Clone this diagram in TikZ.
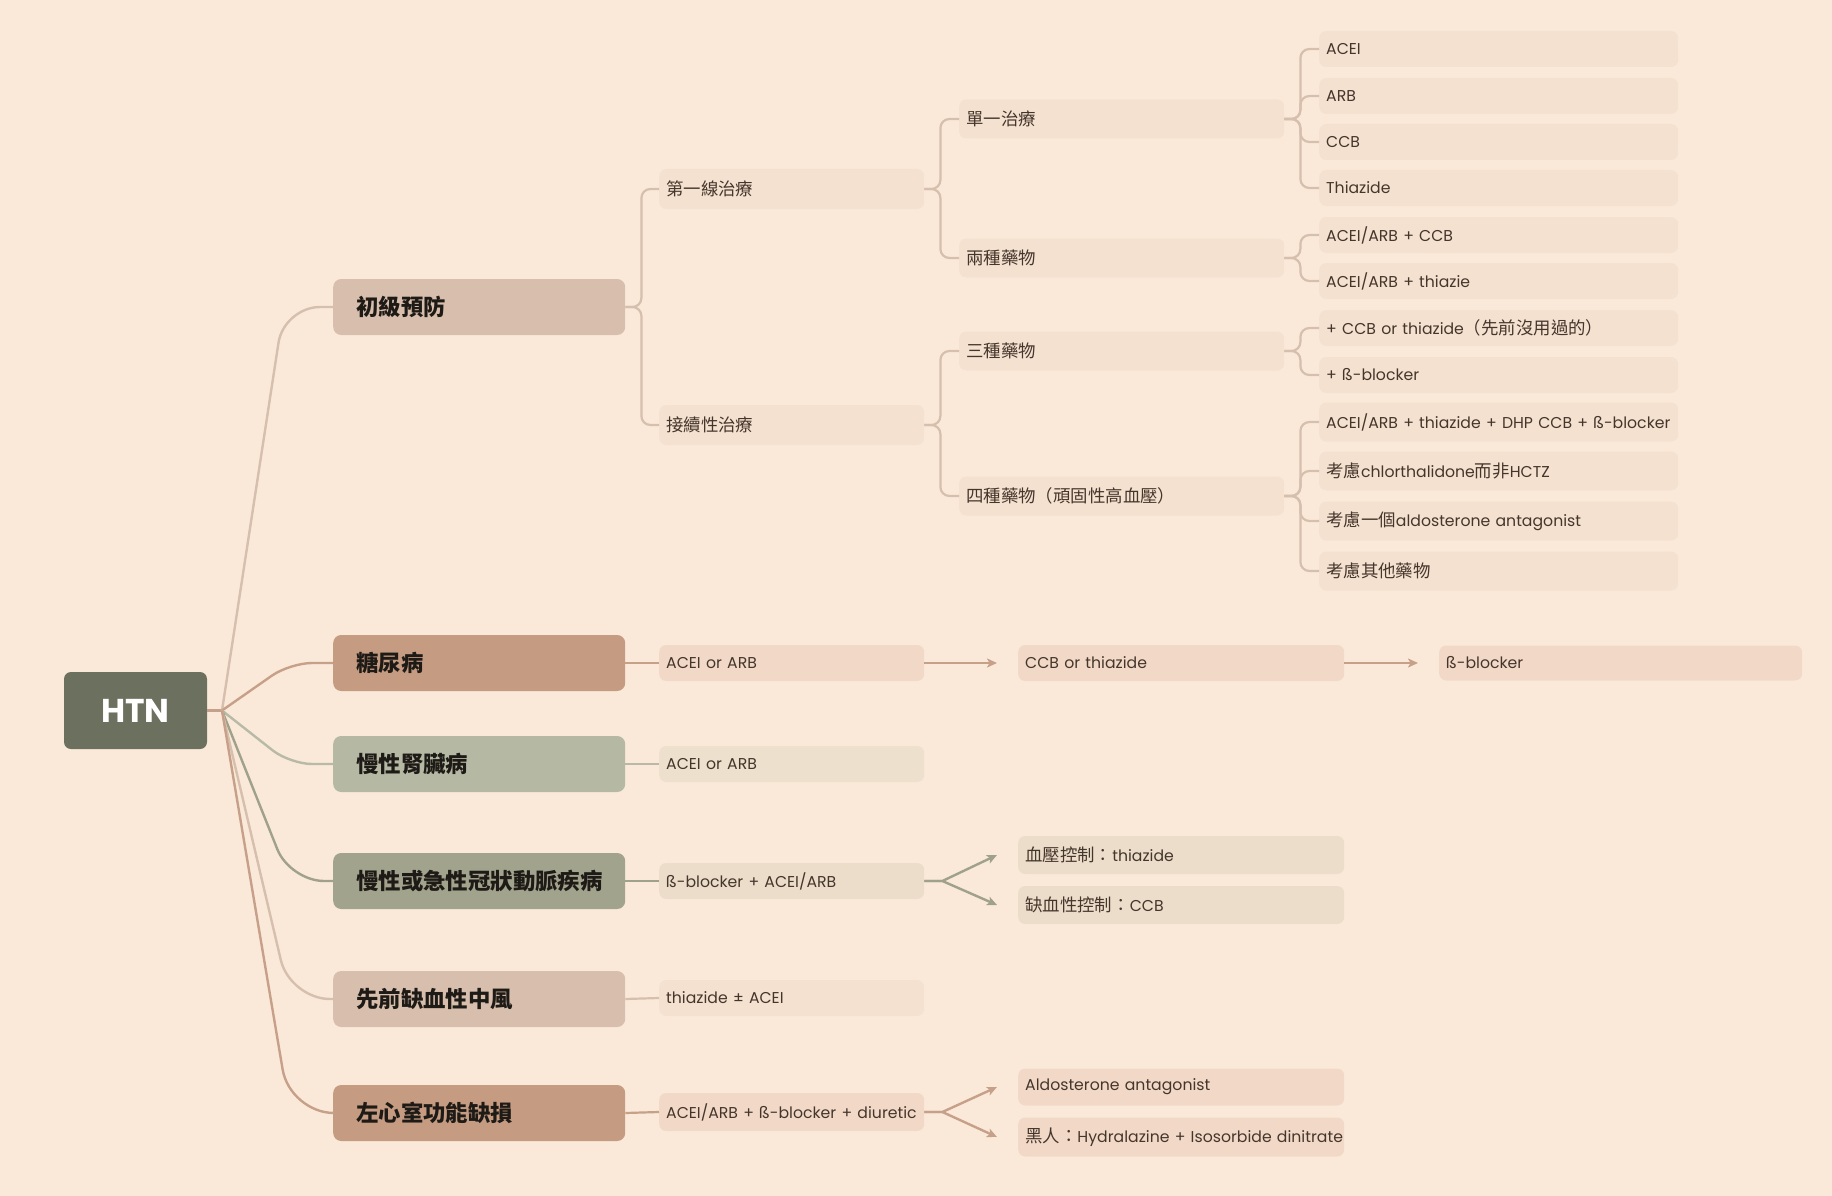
\documentclass[tikz,border=0pt]{standalone}
\usepackage{fontspec}
\setmainfont{Poppins}
\newfontfamily\cjk[Scale=1.11]{Noto Sans CJK TC}
\newfontfamily\cjkhead{Noto Sans CJK TC}
\usetikzlibrary{arrows.meta}

\definecolor{bg}{HTML}{FAE9D9}
\definecolor{htnfill}{HTML}{6C705E}
\definecolor{tanfill}{HTML}{D8BEAC}
\definecolor{rustfill}{HTML}{C59B81}
\definecolor{sagefill}{HTML}{B5B8A3}
\definecolor{olivefill}{HTML}{A2A38D}
\definecolor{pleaf}{HTML}{F5E1D0}
\definecolor{dleaf}{HTML}{F2D9C7}
\definecolor{kleaf}{HTML}{EDE0CD}
\definecolor{cleaf}{HTML}{EBDDCA}
\definecolor{tanline}{HTML}{D6BFAD}
\definecolor{rustline}{HTML}{C7A08A}
\definecolor{sageline}{HTML}{B8BAA7}
\definecolor{oliveline}{HTML}{A0A18B}
\definecolor{topictext}{HTML}{1E1A16}
\definecolor{leaftext}{HTML}{45362C}

\newcommand{\zh}[1]{{\cjk #1}}

\tikzset{
  root/.style={rectangle, rounded corners=7pt, fill=htnfill, text=white,
    minimum width=143pt, minimum height=77pt, font=\bfseries\fontsize{33}{38}\selectfont},
  topic/.style={rectangle, anchor=west, rounded corners=8pt, inner xsep=23pt,
    text width=246pt, minimum height=56pt, align=left, text=topictext,
    font=\cjkhead\bfseries\fontsize{22.4}{26}\selectfont},
  leaf/.style={rectangle, anchor=west, rounded corners=7pt, inner xsep=7pt, inner ysep=0pt,
    text width=#1, minimum height=36pt, align=left, text=leaftext,
    font=\fontsize{15.7}{19}\selectfont},
  branch/.style={line width=2.4pt, rounded corners=#1},
  bracket/.style={line width=2.2pt, rounded corners=9pt},
  flow/.style={line width=2.4pt, -{Stealth[length=10pt,width=9pt,inset=2.5pt]}}
}

\begin{document}
\begin{tikzpicture}[x=1pt,y=-1pt]
\fill[bg] (0,0) rectangle (1832,1196);

\node[root] (htn) at (135.5,710.5) {HTN};
\coordinate (hub) at (222,710.5);

% first level
\begin{scope}[every node/.style={topic}]
  \node[fill=tanfill] (prim) at (333,307) {初級預防};
  \node[fill=rustfill] (dm) at (333,663) {糖尿病};
  \node[fill=sagefill] (ckd) at (333,764) {慢性腎臟病};
  \node[fill=olivefill] (cad) at (333,881) {慢性或急性冠狀動脈疾病};
  \node[fill=tanfill] (cva) at (333,999) {先前缺血性中風};
  \node[fill=rustfill] (lvd) at (333,1113) {左心室功能缺損};
\end{scope}

% primary prevention
\begin{scope}[every node/.style={leaf=251pt, fill=pleaf, minimum height=40pt}]
  \node (first) at (659,189) {\zh{第一線治療}};
  \node (next) at (659,425) {\zh{接續性治療}};
\end{scope}
\begin{scope}[every node/.style={leaf=311pt, fill=pleaf, minimum height=39pt}]
  \node (mono) at (959,119) {\zh{單一治療}};
  \node (two) at (959,258) {\zh{兩種藥物}};
  \node (three) at (959,351) {\zh{三種藥物}};
  \node (four) at (959,496) {\zh{四種藥物（頑固性高血壓）}};
\end{scope}
\begin{scope}[every node/.style={leaf=345pt, fill=pleaf}]
  \node (acei) at (1319,49) {ACEI};
  \node (arb) at (1319,96) {ARB};
  \node (ccb) at (1319,142) {CCB};
  \node (thz) at (1319,188) {Thiazide};
  \node (twoa) at (1319,235) {ACEI/ARB + CCB};
  \node (twob) at (1319,281) {ACEI/ARB + thiazie};
  \node (threea) at (1319,328) {\mbox{+ CCB or thiazide\zh{（先前沒用過的）}}};
  \node (threeb) at (1319,375) {+ ß-blocker};
  \node[minimum height=39pt] (foura) at (1319,422) {\mbox{ACEI/ARB + thiazide + DHP CCB + ß-blocker}};
  \node[minimum height=39pt] (fourb) at (1319,471) {\zh{考慮}chlorthalidone\zh{而非}HCTZ};
  \node[minimum height=39pt] (fourc) at (1319,521) {\zh{考慮一個}aldosterone antagonist};
  \node[minimum height=39pt] (fourd) at (1319,571) {\zh{考慮其他藥物}};
\end{scope}

% other conditions
\node[leaf=251pt, fill=dleaf] (dma) at (659,663) {ACEI or ARB};
\node[leaf=312pt, fill=dleaf] (dmb) at (1018,663) {CCB or thiazide};
\node[leaf=349pt, fill=dleaf, minimum height=35pt] (dmc) at (1439,663) {ß-blocker};
\node[leaf=251pt, fill=kleaf] (ckda) at (659,764) {ACEI or ARB};
\node[leaf=251pt, fill=cleaf] (cada) at (659,881) {ß-blocker + ACEI/ARB};
\node[leaf=312pt, fill=cleaf, minimum height=38pt] (cadb) at (1018,855) {\zh{血壓控制：}thiazide};
\node[leaf=312pt, fill=cleaf, minimum height=38pt] (cadc) at (1018,905) {\zh{缺血性控制：}CCB};
\node[leaf=251pt, fill=pleaf] (cvaa) at (659,998) {thiazide ± ACEI};
\node[leaf=251pt, fill=dleaf, minimum height=38pt] (lvda) at (659,1112) {\mbox{ACEI/ARB + ß-blocker + diuretic}};
\node[leaf=312pt, fill=dleaf, minimum height=37pt] (lvdb) at (1018,1087) {Aldosterone antagonist};
\node[leaf=312pt, fill=dleaf, minimum height=39pt] (lvdc) at (1018,1137) {\mbox{\zh{黑人：}Hydralazine + Isosorbide dinitrate}};

% root branches
\draw[rustline, line width=2.4pt] (htn.east) -- (hub);
\draw[branch=36pt, tanline] (hub) -- (284,307) -- (prim.west);
\draw[branch=22pt, rustline] (hub) -- (290,663) -- (dm.west);
\draw[branch=22pt, sageline] (hub) -- (290,764) -- (ckd.west);
\draw[branch=34pt, oliveline] (hub) -- (290,881) -- (cad.west);
\draw[branch=40pt, tanline] (hub) -- (290,999) -- (cva.west);
\draw[branch=44pt, rustline] (hub) -- (290,1113) -- (lvd.west);

% brackets
\foreach \kid in {first,next}
  \draw[bracket, tanline] (prim.east) -- ++(16,0) |- (\kid.west);
\foreach \kid in {mono,two}
  \draw[bracket, tanline] (first.east) -- ++(16,0) |- (\kid.west);
\foreach \kid in {three,four}
  \draw[bracket, tanline] (next.east) -- ++(16,0) |- (\kid.west);
\foreach \kid in {acei,arb,ccb,thz}
  \draw[bracket, tanline] (mono.east) -- ++(16,0) |- (\kid.west);
\foreach \kid in {twoa,twob}
  \draw[bracket, tanline] (two.east) -- ++(16,0) |- (\kid.west);
\foreach \kid in {threea,threeb}
  \draw[bracket, tanline] (three.east) -- ++(16,0) |- (\kid.west);
\foreach \kid in {foura,fourb,fourc,fourd}
  \draw[bracket, tanline] (four.east) -- ++(16,0) |- (\kid.west);

% plain links
\draw[bracket, rustline] (dm.east) -- (dma.west);
\draw[bracket, sageline] (ckd.east) -- (ckda.west);
\draw[bracket, oliveline] (cad.east) -- (cada.west);
\draw[bracket, tanline] (cva.east) -- (cvaa.west);
\draw[bracket, rustline] (lvd.east) -- (lvda.west);

% arrows
\draw[flow, rustline, shorten >=21pt] (dma.east) -- (dmb.west);
\draw[flow, rustline, shorten >=21pt] (dmb.east) -- (dmc.west);
\draw[flow, oliveline] (cada.east) -- ++(18,0) -- ([xshift=-21pt]cadb.west);
\draw[flow, oliveline] (cada.east) -- ++(18,0) -- ([xshift=-21pt]cadc.west);
\draw[flow, rustline] (lvda.east) -- ++(18,0) -- ([xshift=-21pt]lvdb.west);
\draw[flow, rustline] (lvda.east) -- ++(18,0) -- ([xshift=-21pt]lvdc.west);
\end{tikzpicture}
\end{document}
